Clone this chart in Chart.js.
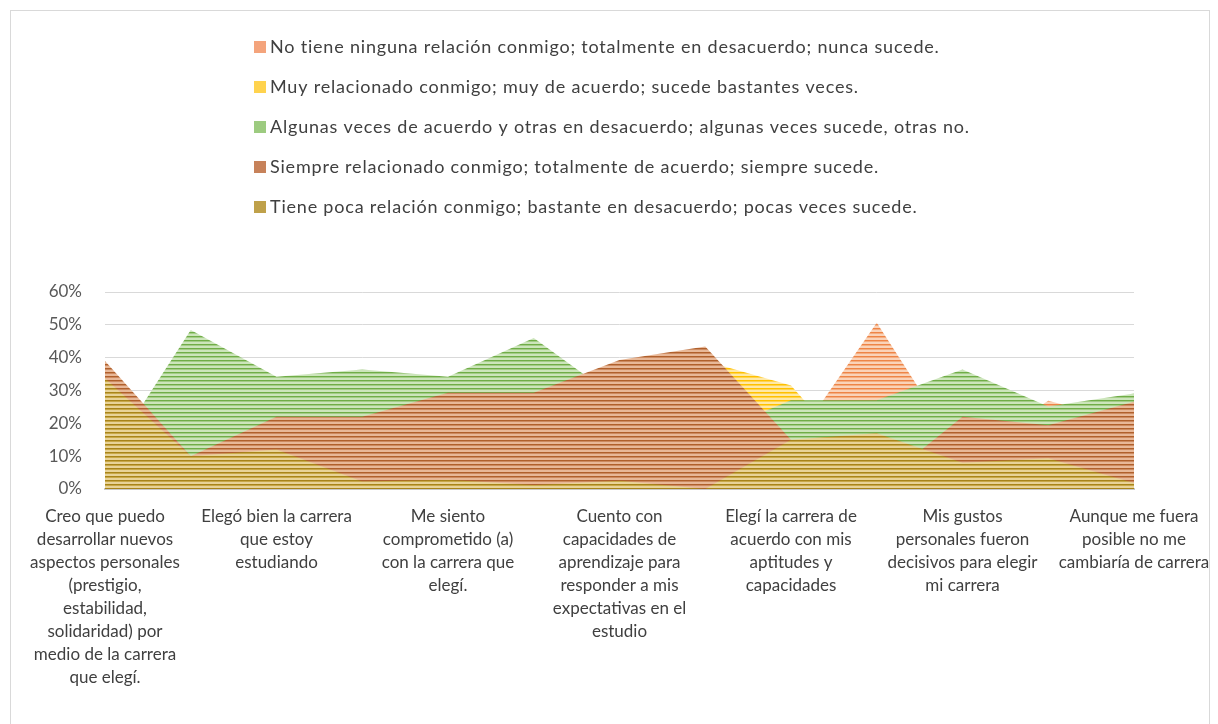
<!DOCTYPE html>
<html>
<head>
<meta charset="utf-8">
<title>Área</title>
<script src="https://cdn.jsdelivr.net/npm/chart.js@4.4.1/dist/chart.umd.min.js"></script>
<style>
  html, body { margin: 0; padding: 0; background: #fff; }
</style>
</head>
<body>
<canvas id="areaChart" width="1218" height="724"></canvas>
<script>
// categorías (solo se muestra una de cada dos etiquetas, como en el original)
const categories = [
    ['Creo que puedo', 'desarrollar nuevos', 'aspectos personales', '(prestigio,', 'estabilidad,', 'solidaridad) por', 'medio de la carrera', 'que elegí.'],
    '',
    ['Elegó bien la carrera', 'que estoy', 'estudiando'],
    '',
    ['Me siento', 'comprometido (a)', 'con la carrera que', 'elegí.'],
    '',
    ['Cuento con', 'capacidades de', 'aprendizaje para', 'responder a mis', 'expectativas en el', 'estudio'],
    '',
    ['Elegí la carrera de', 'acuerdo con mis', 'aptitudes y', 'capacidades'],
    '',
    ['Mis gustos', 'personales fueron', 'decisivos para elegir', 'mi carrera'],
    '',
    ['Aunque me fuera', 'posible no me', 'cambiaría de carrera']
];

const seriesNames = [
    'No tiene ninguna relación conmigo; totalmente en desacuerdo; nunca sucede.',
    'Muy relacionado conmigo; muy de acuerdo; sucede bastantes veces.',
    'Algunas veces de acuerdo y otras en desacuerdo; algunas veces sucede, otras no.',
    'Siempre relacionado conmigo; totalmente de acuerdo; siempre sucede.',
    'Tiene poca relación conmigo; bastante en desacuerdo; pocas veces sucede.'
];

// valores en %
const noTiene        = [2, 5, 8, 10, 12, 10, 8, 5, 12.9, 50.6, 10, 26.9, 20];
const muyRelacionado = [30, 20, 25, 28, 28, 30, 32, 39, 31.5, 2, 10, 14, 18];
const algunasVeces   = [8, 48.4, 34.2, 36.4, 34.2, 46, 27, 16, 27, 27, 36.4, 25.1, 29.1];
const siempre        = [39, 10, 22, 22, 29.3, 29.3, 39.3, 43.4, 15, 1, 22, 19.4, 26.6];
const tienePoca      = [33.7, 10, 12, 2.3, 2.8, 1.2, 2.5, 0, 15, 17, 8, 9.4, 1.8];

const yTicks = [0, 10, 20, 30, 40, 50, 60];

// rayado horizontal estilo Excel
function stripes(fg, mid, bg) {
    const c = document.createElement('canvas');
    c.width = 8;
    c.height = 4;
    const x = c.getContext('2d');
    x.fillStyle = bg;
    x.fillRect(0, 0, 8, 4);
    x.fillStyle = fg;
    x.fillRect(0, 0, 8, 1);
    x.fillStyle = mid;
    x.fillRect(0, 1, 8, 1);
    return x.createPattern(c, 'repeat');
}

const swatches = ['#F4A47C', '#FFD34E', '#9DCB80', '#C7825A', '#BFA14A'];

const frame = {
    id: 'frame',
    beforeDraw(chart) {
        const ctx = chart.ctx;
        ctx.save();
        ctx.fillStyle = '#fff';
        ctx.fillRect(0, 0, chart.width, chart.height);
        ctx.strokeStyle = '#D9D9D9';
        ctx.lineWidth = 1;
        ctx.strokeRect(10.5, 10.5, 1199, 740);
        ctx.restore();
    }
};

// leyenda vertical alineada a la izquierda
const listLegend = {
    id: 'listLegend',
    afterDraw(chart) {
        const ctx = chart.ctx;
        ctx.save();
        ctx.font = '18px Lato, "Open Sans", sans-serif';
        ctx.letterSpacing = '0.8px';
        ctx.textBaseline = 'alphabetic';
        ctx.textAlign = 'left';
        seriesNames.forEach((name, i) => {
            const base = 53 + 40 * i;
            ctx.fillStyle = swatches[i];
            ctx.fillRect(254, base - 12, 12, 12);
            ctx.fillStyle = '#404040';
            ctx.fillText(name, 270, base);
        });
        ctx.restore();
    }
};

const ctx = document.getElementById('areaChart').getContext('2d');
Chart.defaults.font.family = 'Lato, "Open Sans", sans-serif';

const chart = new Chart(ctx, {
    type: 'line',
    data: {
        labels: categories,
        datasets: [
            { label: seriesNames[0], data: noTiene, order: 5,
              backgroundColor: stripes('#EE8446', '#F4AD80', '#FAD3B9') },
            { label: seriesNames[1], data: muyRelacionado, order: 4,
              backgroundColor: stripes('#FFC000', '#FFD34E', '#FFE9A6') },
            { label: seriesNames[2], data: algunasVeces, order: 3,
              backgroundColor: stripes('#70AD47', '#A3CC86', '#CCE5BB') },
            { label: seriesNames[3], data: siempre, order: 2,
              backgroundColor: stripes('#B0602C', '#CC8A60', '#E8B898') },
            { label: seriesNames[4], data: tienePoca, order: 1,
              backgroundColor: stripes('#A8841A', '#C8A848', '#E8D398') }
        ].map(ds => Object.assign(ds, {
            fill: 'origin',
            borderWidth: 0,
            pointRadius: 0,
            tension: 0
        }))
    },
    options: {
        responsive: false,
        animation: false,
        devicePixelRatio: 1,
        layout: {
            padding: { top: 292, left: 0, right: 84, bottom: 0 }
        },
        plugins: {
            legend: { display: false },
            tooltip: { enabled: false }
        },
        scales: {
            x: {
                grid: { display: false },
                border: { display: true, color: '#C8C8C8', width: 2 },
                ticks: {
                    autoSkip: false,
                    maxRotation: 0,
                    minRotation: 0,
                    padding: 8,
                    color: '#404040',
                    font: { size: 17, lineHeight: 1.35 }
                },
                afterFit(scale) {
                    scale.height = 724 - 489;
                }
            },
            y: {
                min: 0,
                max: 60,
                afterBuildTicks(scale) {
                    scale.ticks = yTicks.map(v => ({ value: v }));
                },
                grid: { color: '#D9D9D9', lineWidth: 1, drawTicks: false },
                border: { display: false },
                ticks: {
                    padding: 23,
                    color: '#595959',
                    font: { size: 17 },
                    callback: v => v + '%'
                },
                afterFit(scale) {
                    scale.width = 105;
                }
            }
        }
    },
    plugins: [frame, listLegend]
});
</script>
</body>
</html>
